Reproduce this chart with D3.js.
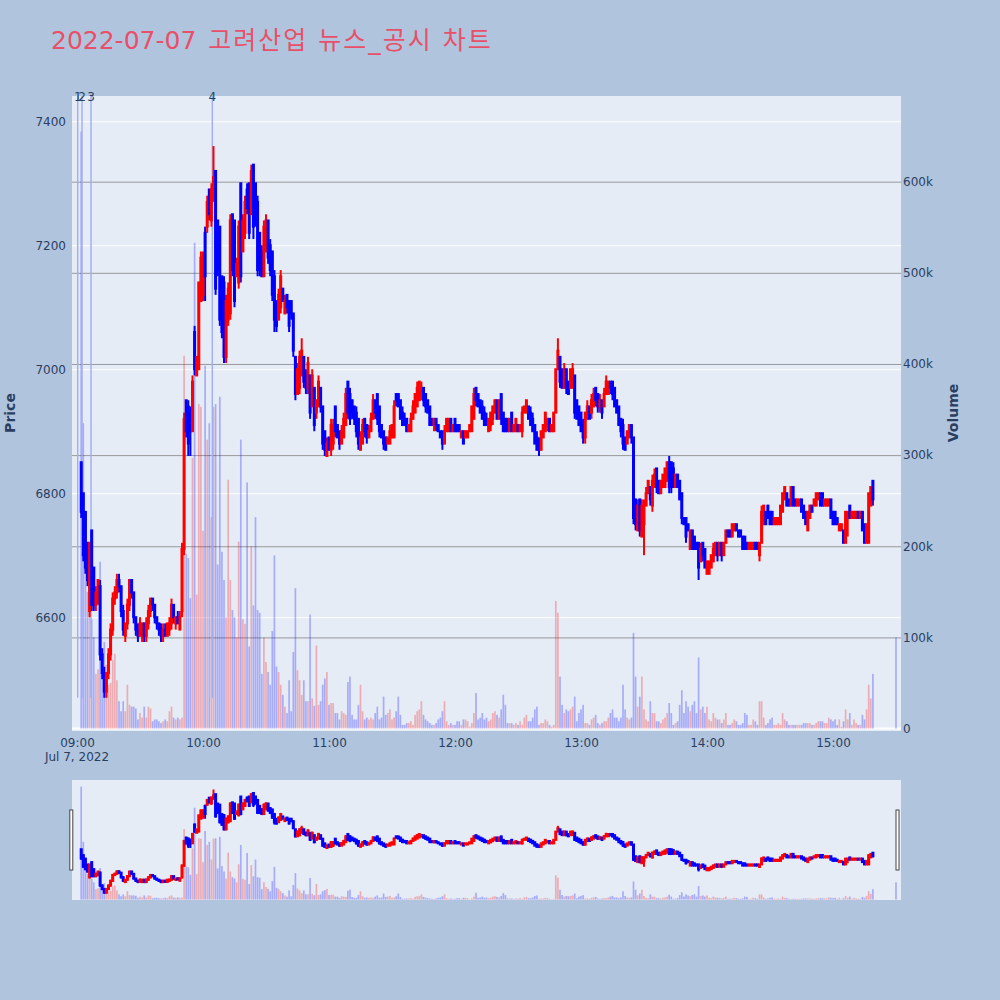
<!DOCTYPE html>
<html><head><meta charset="utf-8">
<script src="https://cdn.jsdelivr.net/npm/d3@7"></script>
<style>body{margin:0;background:#B0C4DE;}svg{display:block}</style>
</head><body><svg id="c" width="1000" height="1000"></svg>
<script>
// ---------- DATA ----------
const tradeDay = "2022-07-07";
const firstBar = "09:02", lastBar = "15:19", closingBar = "15:30";
const opens = [6850,6800,6770,6720,6610,6740,6680,6620,6630,6650,6540,6510,6480,6510,6540,6580,6630,6640,6660,6650,6610,6570,6590,6620,6660,6640,6600,6580,6570,6570,6590,6570,6590,6610,6630,6620,6600,6590,6580,6570,6580,6570,6580,6590,6620,6590,6600,6580,
6610,6710,6950,6940,6930,6900,7060,6990,7000,7110,7120,7220,7230,7290,7240,7280,7320,7240,7230,7150,7140,7020,7080,7090,7250,7240,7150,7140,7300,7190,7220,7290,7300,7250,7330,7300,7270,7220,7190,7150,7190,7240,7200,7190,7150,7110,7080,7100,7130,7090,7120,7110,
7110,7090,7020,6960,6970,6990,7020,6990,6970,6990,6940,6970,6930,6940,6970,6940,6900,6860,6890,6870,6880,6940,6910,6900,6880,6890,6910,6980,6960,6950,6940,6930,6920,6870,6880,6920,6910,6890,6900,6920,6950,6960,6940,6910,6900,6890,6880,6880,6890,6890,6960,
6960,6950,6930,6920,6920,6900,6900,6920,6930,6940,6950,6960,6970,6960,6950,6940,6920,6910,6920,6910,6900,6900,6880,6900,6900,6920,6900,6920,6910,6910,6890,6900,6890,6890,6900,6900,6920,6970,6960,6950,6940,6930,6920,6900,6910,6920,6930,6950,6920,6960,6930,6920,
6920,6900,6930,6900,6900,6910,6900,6900,6930,6930,6940,6930,6920,6910,6890,6880,6870,6890,6900,6910,6920,6900,6900,6930,7000,7020,7000,6970,7000,6980,6970,6970,6990,6950,6940,6930,6910,6890,6920,6940,6930,6940,6970,6960,6940,6950,6940,6960,6960,6980,6980,
6970,6950,6940,6920,6910,6890,6880,6890,6910,6890,6790,6740,6790,6730,6750,6780,6800,6810,6780,6810,6840,6820,6800,6810,6810,6820,6850,6850,6840,6810,6830,6820,6800,6760,6760,6750,6710,6740,6730,6720,6720,6690,6720,6710,6670,6670,6680,6690,6700,6720,6700,
6720,6700,6720,6740,6740,6730,6740,6750,6740,6740,6730,6730,6720,6710,6710,6710,6720,6720,6700,6720,6750,6770,6780,6770,6770,6750,6750,6750,6750,6770,6790,6800,6790,6780,6810,6790,6780,6780,6790,6780,6770,6740,6760,6780,6780,6780,6790,6800,6800,6780,6780,6780,
6790,6770,6770,6760,6740,6740,6740,6720,6760,6780,6760,6760,6760,6770,6760,6770,6750,6720,6720,6780,6820,
6780];
const highs = [6850,6800,6770,6720,6720,6740,6680,6650,6660,6660,6550,6520,6510,6550,6590,6640,6650,6670,6670,6650,6620,6590,6630,6660,6660,6640,6600,6590,6600,6590,6590,6600,6620,6630,6630,6620,6600,6590,6590,6590,6590,6590,6600,6630,6620,6600,6610,6610,
6720,6930,6950,6950,6940,6990,7070,7020,7140,7190,7190,7230,7280,7290,7300,7360,7320,7240,7230,7150,7150,7120,7140,7250,7250,7240,7180,7240,7300,7250,7280,7300,7300,7330,7330,7300,7280,7220,7200,7240,7250,7240,7210,7190,7160,7110,7130,7160,7130,7120,7120,7110,
7110,7090,7020,7010,7030,7050,7020,7000,7020,6990,7000,6970,6950,6990,6970,6940,6900,6890,6890,6920,6920,6940,6910,6900,6910,6930,6970,6980,6970,6950,6940,6940,6920,6900,6920,6920,6910,6910,6930,6960,6950,6960,6940,6910,6900,6890,6890,6910,6910,6950,6960,
6960,6950,6940,6930,6920,6910,6930,6950,6960,6980,6980,6980,6970,6960,6950,6940,6920,6920,6920,6910,6900,6900,6910,6920,6920,6920,6910,6920,6910,6910,6900,6900,6900,6900,6910,6940,6970,6970,6960,6950,6950,6940,6930,6920,6930,6940,6950,6950,6950,6960,6930,6920,
6920,6920,6930,6910,6920,6910,6910,6940,6940,6950,6940,6940,6930,6910,6900,6890,6900,6910,6930,6920,6920,6910,6930,7000,7050,7020,7000,7010,7000,6980,7000,7010,6990,6950,6940,6930,6920,6930,6950,6940,6960,6970,6970,6960,6960,6950,6970,6990,6980,6980,6980,
6970,6950,6940,6920,6920,6890,6900,6910,6910,6890,6790,6790,6790,6790,6790,6810,6820,6810,6830,6840,6840,6820,6820,6830,6840,6850,6860,6850,6850,6830,6830,6820,6800,6760,6760,6750,6740,6740,6730,6720,6720,6720,6720,6710,6690,6690,6700,6720,6720,6720,6720,
6720,6720,6740,6740,6740,6750,6750,6750,6740,6740,6730,6730,6720,6720,6720,6720,6720,6720,6720,6780,6780,6770,6780,6770,6770,6760,6760,6760,6780,6800,6810,6800,6790,6810,6810,6790,6790,6790,6790,6780,6770,6770,6780,6780,6790,6800,6800,6800,6800,6790,6790,6790,
6790,6770,6770,6760,6750,6750,6740,6770,6770,6780,6770,6770,6770,6770,6770,6770,6750,6750,6800,6810,6820,
6780];
const lows = [6760,6690,6670,6650,6600,6610,6610,6610,6620,6530,6500,6470,6470,6500,6530,6570,6620,6630,6640,6600,6570,6560,6580,6610,6630,6590,6570,6560,6570,6560,6560,6560,6580,6600,6610,6590,6580,6570,6560,6560,6570,6570,6570,6580,6590,6580,6590,6580,
6600,6700,6890,6860,6860,6900,6990,6990,7000,7110,7110,7110,7220,7240,7230,7270,7120,7150,7070,7050,7010,7010,7070,7080,7150,7100,7150,7130,7140,7190,7210,7250,7210,7250,7210,7230,7150,7150,7150,7150,7190,7170,7150,7110,7060,7060,7080,7090,7110,7090,7090,7060,
7080,7020,6950,6960,6960,6990,6970,6960,6960,6920,6940,6900,6920,6940,6930,6870,6860,6860,6870,6860,6870,6890,6890,6870,6880,6890,6910,6920,6910,6920,6910,6890,6870,6870,6880,6890,6880,6890,6900,6920,6920,6910,6890,6890,6870,6870,6880,6880,6890,6890,6940,
6940,6920,6910,6910,6900,6900,6900,6920,6930,6940,6950,6950,6940,6930,6930,6910,6910,6900,6900,6900,6890,6870,6880,6900,6900,6900,6900,6900,6900,6900,6890,6880,6890,6890,6900,6900,6920,6940,6940,6930,6920,6910,6910,6900,6900,6910,6930,6920,6920,6910,6900,6900,
6900,6900,6900,6900,6900,6900,6900,6890,6930,6930,6920,6910,6900,6880,6870,6860,6870,6890,6900,6900,6900,6900,6900,6930,7000,6970,6970,6970,6960,6960,6970,6970,6920,6920,6910,6900,6880,6880,6920,6920,6920,6940,6940,6930,6930,6920,6940,6960,6960,6960,6950,
6940,6930,6910,6890,6870,6870,6880,6890,6880,6750,6740,6740,6730,6730,6700,6780,6800,6780,6770,6810,6800,6800,6800,6810,6810,6820,6800,6800,6810,6810,6810,6790,6750,6750,6720,6740,6710,6710,6710,6710,6660,6690,6690,6680,6670,6670,6680,6690,6700,6690,6700,
6690,6700,6720,6730,6730,6730,6740,6740,6730,6730,6710,6710,6710,6710,6710,6710,6710,6710,6690,6720,6750,6750,6760,6750,6750,6750,6750,6750,6750,6770,6790,6780,6780,6780,6780,6780,6780,6780,6770,6760,6750,6740,6760,6770,6780,6780,6790,6780,6780,6780,6780,6780,
6760,6750,6750,6750,6740,6740,6720,6720,6730,6760,6760,6760,6760,6760,6760,6740,6720,6720,6720,6780,6780,
6780];
const closes = [6770,6700,6680,6660,6720,6620,6620,6640,6660,6540,6510,6480,6510,6540,6580,6630,6640,6660,6650,6610,6580,6590,6620,6660,6640,6600,6580,6570,6590,6590,6570,6590,6610,6630,6620,6600,6590,6580,6570,6580,6570,6590,6590,6620,6600,6600,6590,6600,
6710,6920,6900,6880,6900,6980,7000,7020,7140,7180,7180,7150,7270,7250,7290,7310,7130,7160,7080,7060,7020,7110,7130,7240,7160,7110,7170,7230,7150,7240,7270,7260,7220,7320,7230,7240,7160,7160,7150,7230,7240,7180,7160,7120,7080,7070,7120,7150,7110,7110,7100,7070,
7090,7030,6960,7000,7020,7030,6980,6970,7010,6930,6990,6910,6950,6980,6940,6880,6870,6880,6870,6910,6910,6900,6890,6880,6900,6920,6960,6930,6920,6930,6920,6900,6880,6890,6910,6900,6890,6900,6920,6950,6930,6920,6900,6890,6880,6870,6890,6900,6910,6940,6950,
6940,6920,6910,6910,6900,6910,6920,6940,6960,6970,6980,6970,6950,6940,6930,6910,6910,6920,6910,6900,6890,6880,6900,6920,6920,6900,6910,6900,6900,6900,6900,6880,6900,6900,6910,6940,6960,6950,6940,6930,6920,6910,6910,6920,6930,6940,6950,6920,6950,6920,6900,6900,
6900,6920,6900,6910,6920,6900,6910,6930,6940,6950,6920,6910,6900,6880,6870,6870,6900,6910,6930,6920,6900,6910,6930,7000,7030,6980,6970,7000,6970,6960,7000,7000,6930,6920,6910,6900,6890,6930,6940,6920,6950,6960,6950,6940,6950,6930,6960,6980,6980,6970,6960,
6940,6930,6910,6900,6880,6870,6900,6910,6890,6760,6750,6780,6740,6780,6780,6800,6820,6790,6820,6830,6810,6800,6820,6830,6840,6850,6810,6810,6810,6830,6810,6790,6760,6750,6730,6740,6740,6710,6710,6710,6680,6710,6700,6680,6690,6690,6700,6710,6720,6700,6720,
6700,6720,6740,6730,6730,6750,6750,6740,6730,6730,6710,6710,6710,6720,6720,6720,6710,6710,6720,6770,6780,6750,6760,6750,6750,6760,6760,6760,6780,6800,6810,6780,6780,6810,6780,6780,6790,6790,6770,6760,6750,6770,6780,6770,6790,6800,6800,6780,6780,6790,6790,6790,
6760,6750,6750,6750,6750,6750,6720,6770,6770,6760,6770,6770,6770,6760,6770,6740,6720,6750,6800,6810,6790,
6780];
// volume in thousands of shares
const volumesK = [655,335,210,150,175,120,100,60,65,183,60,95,70,48,50,75,82,53,30,19,30,19,48,26,24,24,22,10,17,12,24,12,24,22,8,10,10,8,6,8,10,8,19,24,12,10,12,10,
12,409,192,187,143,297,533,147,356,353,217,398,317,335,232,353,356,180,364,194,163,122,273,163,130,122,100,205,317,120,115,270,90,200,135,232,130,127,60,100,73,62,48,107,190,68,62,48,37,24,17,53,
19,84,154,64,53,37,53,30,30,125,33,25,91,26,30,48,55,62,26,28,28,17,17,10,19,17,15,51,57,15,10,10,26,48,19,10,12,10,12,10,17,24,10,12,35,15,17,21,10,12,19,
35,15,4,4,6,6,8,4,15,19,21,30,15,10,8,6,4,4,6,10,12,19,30,8,4,6,4,4,8,8,4,10,10,8,2,6,17,39,10,12,17,10,12,8,10,17,19,15,12,21,37,26,
6,6,6,4,6,4,8,4,12,15,8,8,12,21,24,4,6,6,10,8,4,2,4,140,127,57,26,17,21,19,21,24,35,8,17,21,26,6,6,4,10,12,15,6,4,6,8,8,12,17,21,
12,12,8,12,48,21,12,10,12,105,57,24,35,57,21,10,8,30,17,17,8,8,6,10,12,17,28,17,4,6,8,26,42,17,30,24,19,26,30,17,78,21,24,17,24,10,8,17,12,10,10,
6,10,17,4,4,6,10,8,4,4,6,17,15,4,4,10,8,4,30,30,12,4,6,10,12,4,4,6,4,17,10,8,4,4,4,4,4,4,4,6,6,6,6,4,4,6,8,8,8,6,6,12,
10,8,10,4,10,2,8,21,10,17,4,10,6,4,4,15,10,21,48,33,60,
100];
const newsTimes = ["09:00:20","09:02:23","09:06:40","10:04:26"];
const newsLabels = ["1","2","3","4"];
const priceTicks = [6600,6800,7000,7200,7400];
const volumeTicksK = [0,100,200,300,400,500,600];
const hourTicks = ["09:00","10:00","11:00","12:00","13:00","14:00","15:00"];
const titleDate = "2022-07-07";
const titleName = "고려산업 뉴스_공시 차트";
const dateLabel = "Jul 7, 2022";
const xView = ["08:57:37","15:32:23"];
const priceView = [6416.4,7440.8];
const volumeViewK = [-2.7,694];

// ---------- LAYOUT ----------
const P = {x0:72, x1:901, y0:96, y1:731};
const S = {y0:780, y1:900};
const FONT = "'DejaVu Sans', Verdana, sans-serif";
const TXT = "#2a3f5f";
const UP = "#ff0000", DOWN = "#0000ff";

const parseT = d3.timeParse("%Y-%m-%d %H:%M:%S");
const T = s => parseT(`${tradeDay} ${s.length===5 ? s+":00" : s}`);
const times = d3.timeMinute.range(T(firstBar), d3.timeMinute.offset(T(lastBar),1)).concat([T(closingBar)]);
const n = Math.min(times.length, opens.length, highs.length, lows.length, closes.length, volumesK.length);
const bars = d3.range(n).map(i => ({t:times[i], o:opens[i], h:highs[i], l:lows[i], c:closes[i], v:volumesK[i]}));

const x = d3.scaleTime().domain(xView.map(T)).range([P.x0, P.x1]);
const yP = d3.scaleLinear().domain(priceView).range([P.y1, P.y0]);
const yV = d3.scaleLinear().domain(volumeViewK).range([P.y1, P.y0]);
const ySP = d3.scaleLinear().domain(priceView).range([S.y1, S.y0]);
const ySV = d3.scaleLinear().domain(volumeViewK).range([S.y1, S.y0]);

const svg = d3.select("#c");
svg.append("rect").attr("width",1000).attr("height",1000).attr("fill","#B0C4DE");

// title
const title = svg.append("text").attr("x",51).attr("y",49).attr("font-family",FONT+",'Noto Sans CJK KR'")
  .attr("font-size",25).attr("fill","#E8506A");
title.append("tspan").text(titleDate);
title.append("tspan").attr("dx",12).attr("letter-spacing",2).text(titleName);

// plot background
svg.append("rect").attr("x",P.x0).attr("y",P.y0).attr("width",P.x1-P.x0).attr("height",P.y1-P.y0).attr("fill","#E5ECF6");

const defs = svg.append("defs");
defs.append("clipPath").attr("id","clipMain").append("rect").attr("x",P.x0).attr("y",P.y0).attr("width",P.x1-P.x0).attr("height",P.y1-P.y0);
defs.append("clipPath").attr("id","clipSlider").append("rect").attr("x",P.x0).attr("y",S.y0).attr("width",P.x1-P.x0).attr("height",S.y1-S.y0);

// grids
svg.append("g").attr("transform",`translate(${P.x0},0)`)
  .call(d3.axisLeft(yP).tickValues(priceTicks).tickSize(-(P.x1-P.x0)).tickFormat(""))
  .call(g=>{g.select(".domain").remove(); g.selectAll("line").attr("stroke","#ffffff").attr("stroke-width",1);});
svg.append("g").attr("transform",`translate(${P.x1},0)`)
  .call(d3.axisRight(yV).tickValues(volumeTicksK.filter(v=>v>0)).tickSize(-(P.x1-P.x0)).tickFormat(""))
  .call(g=>{g.select(".domain").remove(); g.selectAll("line").attr("stroke","#999999").attr("stroke-width",1);});
svg.append("line").attr("x1",P.x0).attr("x2",P.x1).attr("y1",yV(0)).attr("y2",yV(0)).attr("stroke","#ffffff").attr("stroke-width",2);

function drawSeries(g, yPrice, yVol){
  const bw = 1.7;
  g.append("g").selectAll("rect").data(bars).join("rect")
    .attr("x", d=>x(d.t)-bw/2).attr("width", bw)
    .attr("y", d=>yVol(d.v)).attr("height", d=>Math.max(0,yVol(0)-yVol(d.v)))
    .attr("fill", d=> d.c>d.o ? UP : DOWN).attr("fill-opacity",0.27);
}
function drawCandles(g, yPrice){
  const cg = g.append("g");
  cg.selectAll("line").data(bars).join("line")
    .attr("x1", d=>x(d.t)).attr("x2", d=>x(d.t))
    .attr("y1", d=>yPrice(d.h)).attr("y2", d=>yPrice(d.l))
    .attr("stroke", d=> d.c>d.o ? UP : DOWN).attr("stroke-width",2);
  cg.selectAll("rect").data(bars).join("rect")
    .attr("x", d=>x(d.t)-0.5).attr("width",1)
    .attr("y", d=>yPrice(Math.max(d.o,d.c))).attr("height", d=>Math.abs(yPrice(d.o)-yPrice(d.c)))
    .attr("fill", d=> d.c>d.o ? UP : DOWN).attr("stroke", d=> d.c>d.o ? UP : DOWN).attr("stroke-width",2);
}

const main = svg.append("g").attr("clip-path","url(#clipMain)");
drawSeries(main, yP, yV);
// news markers
const lowest = d3.min(bars, d=>d.l);
main.append("g").selectAll("line").data(newsTimes).join("line")
  .attr("x1", d=>x(T(d))).attr("x2", d=>x(T(d)))
  .attr("y1", P.y0).attr("y2", yP(lowest))
  .attr("stroke","#9fadf3").attr("stroke-width",1.4);
drawCandles(main, yP);
svg.append("g").selectAll("text").data(newsTimes).join("text")
  .attr("x", d=>x(T(d))).attr("y", 101).attr("text-anchor","middle")
  .attr("font-family",FONT).attr("font-size",12).attr("fill",TXT)
  .text((d,i)=>newsLabels[i]);

// axes labels
const styleAxis = g => { g.select(".domain").remove(); g.selectAll("text").attr("font-family",FONT).attr("font-size",12).attr("fill",TXT); };
svg.append("g").attr("transform",`translate(${P.x0},0)`)
  .call(d3.axisLeft(yP).tickValues(priceTicks).tickSize(0).tickPadding(6).tickFormat(d3.format("d"))).call(styleAxis);
svg.append("g").attr("transform",`translate(${P.x1},0)`)
  .call(d3.axisRight(yV).tickValues(volumeTicksK).tickSize(0).tickPadding(2).tickFormat(d=> d===0 ? "0" : d+"k")).call(styleAxis);
svg.append("g").attr("transform",`translate(0,${P.y1})`)
  .call(d3.axisBottom(x).tickValues(hourTicks.map(T)).tickSize(0).tickPadding(7.5).tickFormat(d3.timeFormat("%H:%M"))).call(styleAxis);
svg.append("text").attr("x", x(T(hourTicks[0]))).attr("y",761).attr("text-anchor","middle")
  .attr("font-family",FONT).attr("font-size",12).attr("fill",TXT).text(dateLabel);

svg.append("text").attr("transform","translate(10,413) rotate(-90)").attr("text-anchor","middle").attr("dominant-baseline","central")
  .attr("font-family",FONT).attr("font-size",14).attr("font-weight","bold").attr("fill",TXT).text("Price");
svg.append("text").attr("transform","translate(953,413) rotate(-90)").attr("text-anchor","middle").attr("dominant-baseline","central")
  .attr("font-family",FONT).attr("font-size",14).attr("font-weight","bold").attr("fill",TXT).text("Volume");

// range slider
svg.append("rect").attr("x",P.x0).attr("y",S.y0).attr("width",P.x1-P.x0).attr("height",S.y1-S.y0).attr("fill","#E5ECF6");
const sl = svg.append("g").attr("clip-path","url(#clipSlider)");
drawSeries(sl, ySP, ySV);
drawCandles(sl, ySP);
const hy = S.y0 + (S.y1-S.y0)/4;
[P.x0-0.7, P.x1-3.5].forEach(cx=>{
  svg.append("rect").attr("x",cx-1.5).attr("y",hy).attr("width",3).attr("height",(S.y1-S.y0)/2)
    .attr("fill","#ffffff").attr("stroke","#444").attr("stroke-width",1);
});
</script></body></html>
